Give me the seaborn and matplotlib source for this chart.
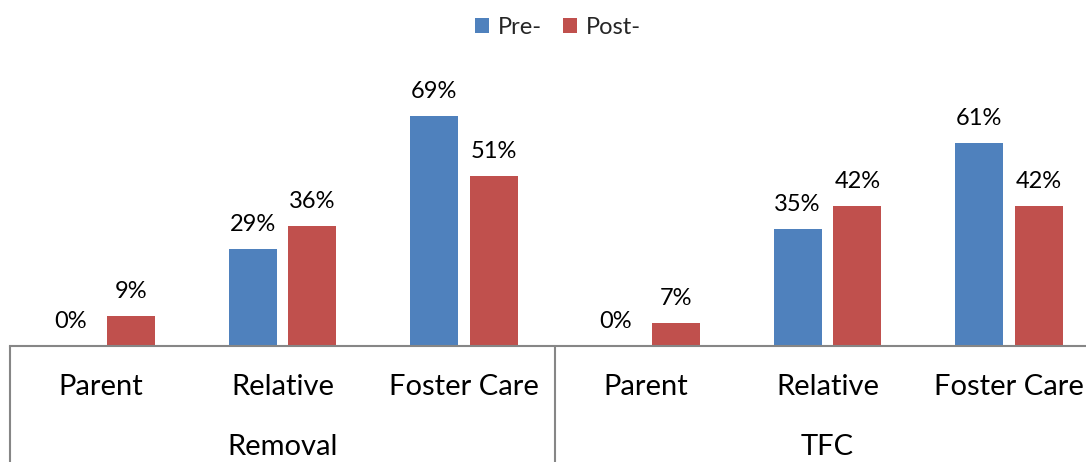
import matplotlib
matplotlib.use("Agg")
import matplotlib.pyplot as plt
import seaborn as sns
import pandas as pd

groups = ["Removal", "TFC"]
placements = ["Parent", "Relative", "Foster Care"]
series = ["Pre-", "Post-"]
pre_values = [0, 29, 69, 0, 35, 61]
post_values = [9, 36, 51, 7, 42, 42]
colors = ["#4F81BD", "#C0504D"]

sns.set_theme(style="white")
plt.rcParams["font.family"] = ["Lato", "DejaVu Sans"]

keys = [f"{g}|{p}" for g in groups for p in placements]
df = pd.DataFrame({
    "key": keys * 2,
    "series": [series[0]] * len(keys) + [series[1]] * len(keys),
    "value": pre_values + post_values,
})

fig = plt.figure(figsize=(10.86, 4.62), dpi=100)
ax = fig.add_axes([10 / 1086, 116 / 462, 1090 / 1086, 266.7 / 462])

sns.barplot(data=df, x="key", y="value", hue="series", order=keys,
            hue_order=series, palette=colors, width=0.66, gap=0.2,
            linewidth=0, saturation=1, ax=ax, legend=True)

ax.set_ylim(0, 80)
ax.set_xlim(-0.5, len(keys) - 0.5)
ax.set_yticks([])
ax.set_xticks([])
ax.set_xlabel("")
ax.set_ylabel("")
for s in ["top", "left", "right"]:
    ax.spines[s].set_visible(False)
ax.spines["bottom"].set_color("#868686")
ax.spines["bottom"].set_linewidth(1.5)

# value labels above every bar
for cont in ax.containers:
    labels = [f"{int(round(b.get_height()))}%" for b in cont]
    ax.bar_label(cont, labels=labels, padding=10, fontsize=17, color="#000000")

# two-level category axis
trans = ax.get_xaxis_transform()
for i, k in enumerate(keys):
    ax.text(i, -0.154, k.split("|")[1], transform=trans, ha="center",
            va="center", fontsize=21, color="#000000")
for gi, g in enumerate(groups):
    ax.text(gi * 3 + 1, -0.379, g, transform=trans, ha="center",
            va="center", fontsize=21, color="#000000")
for xb in [-0.5, 2.5, 5.5]:
    ax.plot([xb, xb], [0, -0.44], transform=trans, color="#868686",
            lw=1.5, clip_on=False)

leg = ax.legend(loc="center", bbox_to_anchor=(558 / 1086, 1 - 27 / 462),
                bbox_transform=fig.transFigure, ncol=2, frameon=False,
                fontsize=17, handlelength=0.6, handleheight=0.6,
                handletextpad=0.35, columnspacing=0.9)

fig.savefig("out.png", dpi=100)
